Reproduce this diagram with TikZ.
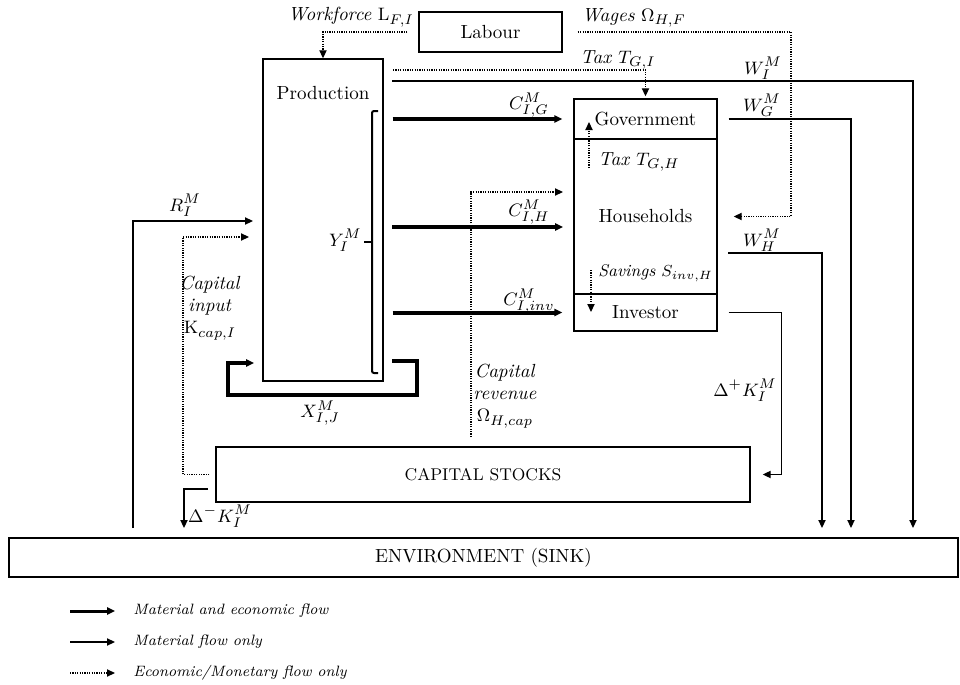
\documentclass[tikz,border=0pt]{standalone}
\usepackage{tikz}
\usetikzlibrary{arrows.meta, positioning}

\begin{document}
\begin{tikzpicture}[x=0.5pt, y=-0.5pt, >={Triangle[length=4pt,width=3.6pt]},
    every node/.style={font=\fontsize{9.5}{11}\selectfont},
    box/.style={draw, line width=0.7pt, inner sep=0pt},
    bothflow/.style={->, line width=2pt},
    matflow/.style={->, line width=0.7pt},
    monflow/.style={->, line width=0.6pt, dash pattern=on 0.6pt off 0.6pt},
    legtext/.style={anchor=west, font=\fontsize{7.5}{9}\selectfont\itshape}]
    \useasboundingbox (0,0) rectangle (960,685);

    \node[box, minimum width=71.5pt, minimum height=20pt]   (labour) at (490.5,32)   {Labour};
    \node[box, minimum width=60pt, minimum height=161pt]    (prod)   at (323,220)    {};
    \node                                                   (prodlbl) at (323,93)    {Production};
    \node[box, minimum width=71.5pt, minimum height=20pt]   (gov)    at (645.5,119)  {Government};
    \node[box, minimum width=71.5pt, minimum height=77.5pt] (hh)     at (645.5,216.5) {Households};
    \node[box, minimum width=71.5pt, minimum height=18.5pt] (inv)    at (645.5,312.5) {Investor};
    \node[box, minimum width=267pt, minimum height=27.5pt, font=\fontsize{8.5}{10}\selectfont] (cap) at (483,474.5) {CAPITAL STOCKS};
    \node[box, minimum width=474.5pt, minimum height=19.5pt] (env)   at (483.5,557.5) {ENVIRONMENT (SINK)};

    %free ends
    \coordinate (wagesbend) at (791,32);
    \coordinate (taxgi) at (393,70);
    \coordinate (wi0) at (392,81);
    \coordinate (wiend) at (913,528);
    \coordinate (wgend) at (851,528);
    \coordinate (wh0) at (728,253);
    \coordinate (whend) at (822,528);
    \coordinate (rsrc) at (133,528);
    \coordinate (rin) at (253,221);
    \coordinate (kbend) at (183,237);
    \coordinate (kin) at (249,237);
    \coordinate (dm0) at (208,489);
    \coordinate (dmend) at (184,528);
    \coordinate (crev0) at (471,437);
    \coordinate (crev1) at (563,192);
    \coordinate (ch0) at (392,227);
    \coordinate (ch1) at (563,227);
    \coordinate (x0) at (392,361);
    \coordinate (xr) at (417,395);
    \coordinate (xl) at (228,395);
    \coordinate (xin) at (254,363);
    \coordinate (tgh0) at (589,168);
    \coordinate (tgh1) at (589,122);
    \coordinate (sav0) at (591,270);
    \coordinate (sav1) at (591,312);

    %monetary flows
    \draw[monflow] ([xshift=-5.5pt]labour.west) -| (prod.north);
    \draw[monflow] ([xshift=7.5pt]labour.east) -- (wagesbend) |- ([xshift=8pt]hh.east);
    \draw[monflow] (taxgi) -| ([yshift=1pt]gov.north);
    \draw[monflow] ([xshift=-3pt]cap.west) -| (kbend) -- (kin);
    \draw[monflow] (crev0) |- (crev1);
    \draw[monflow] (tgh0) -- (tgh1);
    \draw[monflow] (sav0) -- (sav1);

    %material flows
    \draw[matflow] (wi0) -| (wiend);
    \draw[matflow] ([xshift=5.5pt]gov.east) -| (wgend);
    \draw[matflow] (wh0) -| (whend);
    \draw[matflow] ([xshift=5.5pt]inv.east) -| ([xshift=15.5pt]cap.east) -- ([xshift=6pt]cap.east);
    \draw[matflow] (rsrc) |- (rin);
    \draw[matflow] (dm0) -| (dmend);

    %material and economic flows
    \draw[bothflow] ([xshift=4.5pt]prod.east |- gov.west) -- ([xshift=-5.5pt]gov.west);
    \draw[bothflow] (ch0) -- (ch1);
    \draw[bothflow] ([xshift=4.5pt]prod.east |- inv.west) -- ([xshift=-5.5pt]inv.west);
    \draw[bothflow] (x0) -| (xr) -- (xl) |- (xin);

    %bracket for Y
    \draw[line width=1pt, rounded corners=1pt] (378,111) -- (372,111) -- (372,373) -- (378,373);
    \draw[line width=1pt] (372,242) -- (364,242);

    %labels
    \node (lwork)  at (351,17)  {\textit{Workforce} $\mathrm{L}_{F,I}$};
    \node (lwage)  at (634,18)  {\textit{Wages} $\Omega_{H,F}$};
    \node (ltaxgi) at (618,60)  {\textit{Tax} $T_{G,I}$};
    \node (lwi)    at (763,68)  {$W_I^M$};
    \node (lwg)    at (762,105) {$W_G^M$};
    \node (lwh)    at (762,240) {$W_H^M$};
    \node (lcg)    at (529,105) {$C_{I,G}^M$};
    \node (lch)    at (529,212) {$C_{I,H}^M$};
    \node (lcinv)  at (529,301) {$C_{I,inv}^M$};
    \node[anchor=west, inner sep=1pt] (ltgh) at (596,162) {\textit{Tax} $T_{G,H}$};
    \node[anchor=west, inner sep=1pt, font=\fontsize{8.5}{10}\selectfont] (lsav) at (596,273) {\textit{Savings} $S_{inv,H}$};
    \node (lr)     at (185,205) {$R_I^M$};
    \node[align=center] (lkin)  at (210,308) {\textit{Capital}\\\textit{input}\\$\mathrm{K}_{cap,I}$};
    \node[align=center] (lcrev) at (505,396) {\textit{Capital}\\\textit{revenue}\\$\Omega_{H,cap}$};
    \node (ldkp)   at (745,390) {$\Delta^{+}K_I^M$};
    \node (ldkm)   at (220,516) {$\Delta^{-}K_I^M$};
    \node (lx)     at (320,413) {$X_{I,J}^M$};
    \node[anchor=east, inner sep=1pt] (ly) at (364,240) {$Y_I^M$};

    %legend
    \coordinate (lg1a) at (70,611);  \coordinate (lg1b) at (115,611);
    \coordinate (lg2a) at (70,642);  \coordinate (lg2b) at (115,642);
    \coordinate (lg3a) at (70,673);  \coordinate (lg3b) at (115,673);
    \draw[bothflow, line width=1.5pt] (lg1a) -- (lg1b);
    \draw[matflow] (lg2a) -- (lg2b);
    \draw[monflow] (lg3a) -- (lg3b);
    \node[legtext, inner sep=1pt] (lg1) at (131,611) {Material and economic flow};
    \node[legtext, inner sep=1pt] (lg2) at (131,642) {Material flow only};
    \node[legtext, inner sep=1pt] (lg3) at (131,673) {Economic/Monetary flow only};
\end{tikzpicture}
\end{document}
